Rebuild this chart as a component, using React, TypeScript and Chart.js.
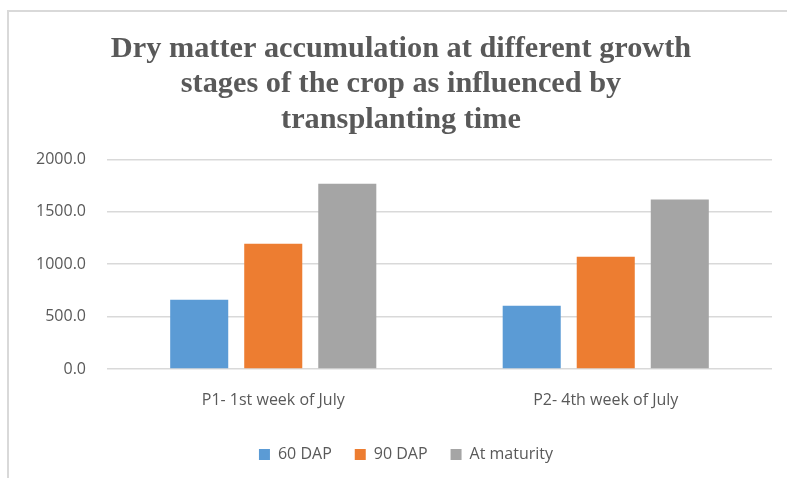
import React, { useEffect, useRef } from "react";
import { Chart, registerables } from "chart.js";

Chart.register(...registerables);

const titleLines = [
  "Dry matter accumulation at different growth",
  "stages of the crop as influenced by",
  "transplanting time",
];
const categories = ["P1- 1st week of July", "P2- 4th week of July"];
const seriesNames = ["60 DAP", "90 DAP", "At maturity"];
const dap60 = [660, 602];
const dap90 = [1195, 1071];
const atMaturity = [1766, 1616];
const seriesColors = ["#5B9BD5", "#ED7D31", "#A5A5A5"];
const yTicks = [0, 500, 1000, 1500, 2000];

const blockShift = {
  id: "blockShift",
  afterLayout(chart: any) {
    if (chart.legend) {
      chart.legend.left += 20;
      chart.legend.right += 20;
    }
    if (chart.titleBlock) {
      chart.titleBlock.left += 15;
      chart.titleBlock.right += 15;
    }
  },
};

export default function App() {
  const ref = useRef<HTMLCanvasElement>(null);
  useEffect(() => {
    if (!ref.current) return;
    const values = [dap60, dap90, atMaturity];
    const chart = new Chart(ref.current, {
      type: "bar",
      data: {
        labels: categories,
        datasets: seriesNames.map((name, i) => ({
          label: name,
          data: values[i],
          backgroundColor: seriesColors[i],
          borderWidth: 0,
          categoryPercentage: 0.668,
          barPercentage: 0.784,
        })),
      },
      plugins: [blockShift],
      options: {
        animation: false,
        responsive: false,
        maintainAspectRatio: false,
        layout: { padding: { left: 0, right: 15, top: 0, bottom: 5.5 } },
        plugins: {
          title: {
            display: true,
            text: titleLines,
            color: "#595959",
            font: { family: "'Liberation Serif', 'Times New Roman', serif", size: 30.3, weight: "bold", lineHeight: 1.18 },
            padding: { top: 31, bottom: 21 },
          },
          legend: {
            position: "bottom",
            labels: {
              boxWidth: 11,
              boxHeight: 11,
              padding: 23,
              color: "#595959",
              font: { family: "'Open Sans', sans-serif", size: 16 },
            },
          },
          tooltip: { enabled: false },
        },
        scales: {
          x: {
            grid: { display: false, drawTicks: false },
            border: { display: false },
            ticks: { color: "#595959", padding: 22, font: { family: "'Open Sans', sans-serif", size: 16 } },
            afterFit: (s: any) => { s.height = 54.5; },
          },
          y: {
            min: 0,
            max: 2000,
            afterBuildTicks: (s: any) => { s.ticks = yTicks.map((v) => ({ value: v })); },
            grid: { color: "#d9d9d9", lineWidth: 1.5, drawTicks: false },
            border: { display: false },
            ticks: {
              color: "#595959",
              padding: 21,
              font: { family: "'Open Sans', sans-serif", size: 16 },
              callback: (v: any) => Number(v).toFixed(1),
            },
            afterFit: (s: any) => { s.width = 107; },
          },
        },
      },
    });
    return () => chart.destroy();
  }, []);
  return (
    <div style={{ position: "fixed", left: 0, top: 0, width: 787, height: 478, overflow: "hidden", background: "#fff" }}>
      <div style={{ position: "absolute", left: 7, top: 10, width: 790, height: 480, borderLeft: "2px solid #d9d9d9", borderTop: "2px solid #d9d9d9" }} />
      <canvas ref={ref} width={787} height={478} style={{ position: "absolute", left: 0, top: 0, width: 787, height: 478 }} />
    </div>
  );
}
